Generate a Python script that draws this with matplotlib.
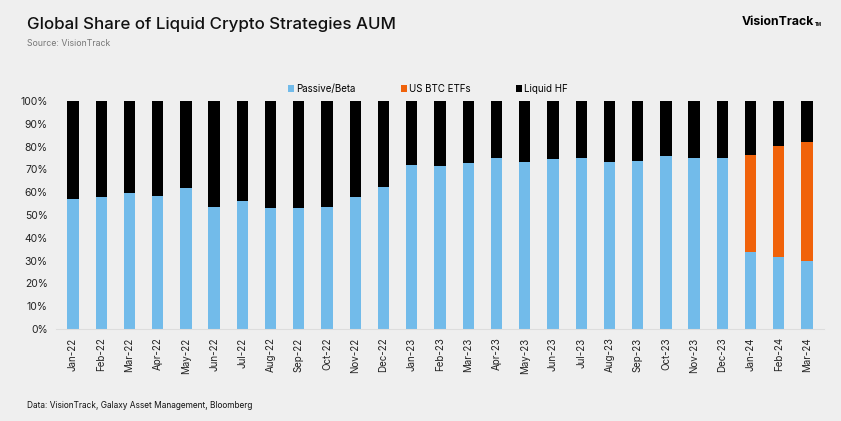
import matplotlib.pyplot as plt
import numpy as np

# 数据
months = ['Jan-22', 'Feb-22', 'Mar-22', 'Apr-22', 'May-22', 'Jun-22', 'Jul-22', 'Aug-22', 'Sep-22',
          'Oct-22', 'Nov-22', 'Dec-22', 'Jan-23', 'Feb-23', 'Mar-23', 'Apr-23', 'May-23', 'Jun-23',
          'Jul-23', 'Aug-23', 'Sep-23', 'Oct-23', 'Nov-23', 'Dec-23', 'Jan-24', 'Feb-24', 'Mar-24']
passive = [56.9, 58.1, 59.7, 58.4, 62.0, 53.6, 56.3, 53.0, 53.0, 53.6, 58.1, 62.4, 72.1,
           71.6, 72.8, 74.8, 73.4, 74.7, 74.8, 73.4, 73.7, 75.7, 75.1, 74.8, 33.8, 31.7, 29.8]
btc_etfs = [0] * 24 + [42.3, 48.6, 52.0]
liquid_hf = [100 - p - e for p, e in zip(passive, btc_etfs)]

bg = '#efefef'
c_blue = '#72bbea'
c_orange = '#f0620a'
c_black = '#000000'

plt.rcParams['font.family'] = ['Inter', 'DejaVu Sans']

fig = plt.figure(figsize=(8.41, 4.21), dpi=100, facecolor=bg)
ax = fig.add_axes([56 / 841, 1 - 329 / 421, (824 - 56) / 841, (329 - 101) / 421])
ax.set_facecolor(bg)

x = np.arange(len(months))
w = 0.4
ax.bar(x, passive, w, color=c_blue, label='Passive/Beta')
ax.bar(x, btc_etfs, w, bottom=passive, color=c_orange, label='US BTC ETFs')
ax.bar(x, liquid_hf, w, bottom=np.array(passive) + np.array(btc_etfs), color=c_black, label='Liquid HF')

ax.set_xlim(-0.6, len(months) - 0.4)
ax.set_ylim(0, 100)
ax.set_yticks(range(0, 101, 10))
ax.set_yticklabels([f'{v}%' for v in range(0, 101, 10)], fontsize=7.5, color='#222222')
ax.set_xticks(x)
ax.set_xticklabels(months, rotation=90, fontsize=7, color='#222222')
ax.tick_params(length=0, pad=6)
for s in ['top', 'right', 'left']:
    ax.spines[s].set_visible(False)
ax.spines['bottom'].set_color('#dddddd')

leg = fig.legend(loc='center', bbox_to_anchor=(428 / 841, 1 - 89 / 421), ncol=3, frameon=False,
                 fontsize=7, handlelength=0.6, handleheight=0.6, handletextpad=0.2, columnspacing=4.7)

fig.text(27 / 841, 1 - 25 / 421, 'Global Share of Liquid Crypto Strategies AUM', fontsize=12.2,
         fontweight='medium', va='center', ha='left', color='#111111')
fig.text(27 / 841, 1 - 43 / 421, 'Source: VisionTrack', fontsize=6.3, color='#777777', va='center')
fig.text(742 / 841, 1 - 22 / 421, 'VisionTrack', fontsize=8.8, fontweight='bold', va='center')
fig.text(815 / 841, 1 - 25 / 421, 'TM', fontsize=3.2, fontweight='bold', va='center')
fig.text(27 / 841, 1 - 405 / 421, 'Data: VisionTrack, Galaxy Asset Management, Bloomberg', fontsize=6,
         color='#111111', va='center')

plt.savefig('out.png', dpi=100, facecolor=bg)
